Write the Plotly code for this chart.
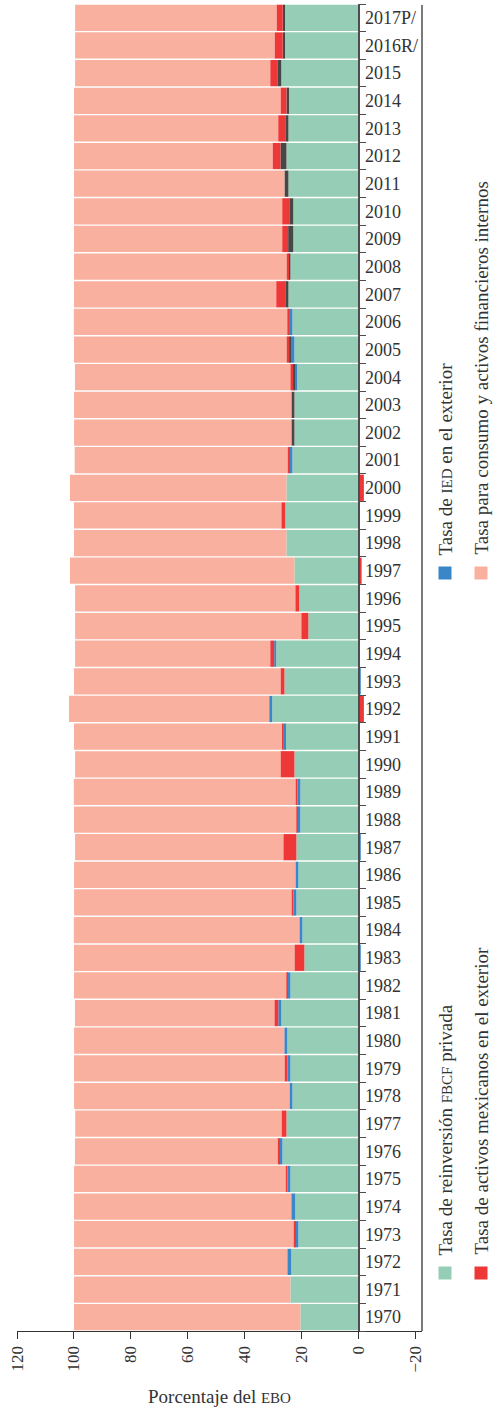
import plotly.graph_objects as go

years = [str(y) for y in range(1970, 2016)] + ["2016R/", "2017P/"]

# Tasa de reinversión FBCF privada
reinversion = [20.5, 24.0, 23.7, 21.2, 22.3, 24.0, 26.8, 25.4, 23.3, 24.0,
               25.1, 27.2, 24.0, 19.1, 19.8, 21.9, 21.2, 21.9, 20.5, 20.5,
               22.6, 25.8, 30.4, 26.1, 29.0, 17.7, 20.9, 22.6, 25.4, 25.8,
               25.4, 23.3, 22.6, 22.6, 21.6, 22.6, 23.3, 24.7, 24.0, 23.0,
               23.0, 24.7, 25.4, 24.7, 24.7, 27.2, 26.1, 26.1]
# Tasa de IED en el exterior
ied = [0, 0, 1.4, 1.05, 1.4, 1.05, 1.05, 0, 1.05, 1.05,
       1.05, 1.05, 1.05, -0.7, 1.05, 1.05, 1.05, -0.7, 1.05, 1.05,
       0, 0.5, 1.05, -0.7, 0.7, 0, 0, 0, 0, 0,
       0, 1.05, 0, 0, 1.05, 1.4, 1.4, 0, 0, 0,
       0, 0, 0, 0, 0, 0, 0, 0]
# segmento gris oscuro (sin leyenda)
otros = [0, 0, 0, 0, 0, 0, 0, 0, 0, 0,
         0, 0, 0, 0, 0, 0, 0, 0, 0, 0,
         0, 0, 0, 0, 0, 0, 0, 0, 0, 0,
         0, 0, 1.05, 1.05, 0.35, 0.35, 0, 1.1, 0.7, 1.8,
         1.4, 1.4, 2.1, 1.1, 0.7, 1.4, 0.6, 0.6]
# Tasa de activos mexicanos en el exterior
activos_ext = [0, -0.4, 0, 0.7, 0, 0.7, 0.7, 1.75, 0, 1.05,
               0, 1.4, 0.35, 3.5, 0, 0.7, -0.4, 4.6, 0.35, 0.7,
               4.9, 0.7, -1.8, 1.4, 1.4, 2.5, 1.4, -1.0, -0.4, 1.4,
               -1.8, 0.7, 0, 0, 1.05, 1.05, 0.35, 3.2, 0.7, 2.1,
               2.5, 0, 2.8, 2.5, 2.1, 2.5, 2.9, 2.2]
# Tasa para consumo y activos financieros internos
consumo = [79.5, 76.0, 74.9, 77.0, 76.3, 74.2, 71.1, 72.4, 75.6, 73.9,
           73.8, 70.0, 74.6, 77.4, 79.2, 76.3, 77.7, 73.1, 78.1, 77.8,
           72.1, 73.0, 70.3, 72.5, 68.5, 79.4, 77.3, 78.8, 74.6, 72.8,
           76.0, 74.7, 76.3, 76.3, 75.6, 74.6, 75.0, 71.0, 74.6, 73.1,
           73.1, 73.9, 69.7, 71.7, 72.5, 68.5, 70.0, 70.7]

x_ticks = [120, 100, 80, 60, 40, 20, 0, -20]

GREEN = "#96cdb6"
BLUE = "#3a87c8"
GRAY = "#474747"
RED = "#ee3838"
SALMON = "#f9b09e"
FONT = "Liberation Serif, DejaVu Serif, serif"
TXT = "#333333"

fig = go.Figure()
for vals, name, col in [(reinversion, "Tasa de reinversión FBCF privada", GREEN),
                        (ied, "Tasa de IED en el exterior", BLUE),
                        (otros, "Otros", GRAY),
                        (activos_ext, "Tasa de activos mexicanos en el exterior", RED),
                        (consumo, "Tasa para consumo y activos financieros internos", SALMON)]:
    fig.add_trace(go.Bar(y=years, x=vals, name=name, orientation="h",
                         marker=dict(color=col, line=dict(width=0))))

# plot area in pixels
L, R, T, B = 17, 73, 4, 82
W, H = 495 - L - R, 1413 - T - B
xmin, xmax = 120, -22.2
zero_pos = (0 - xmin) / (xmax - xmin)


def px(x):
    return (x - L) / W


def py(y):
    return (T + H - y) / H


fig.update_layout(
    width=495, height=1413,
    margin=dict(l=L, r=R, t=T, b=B, autoexpand=False),
    barmode="relative", bargap=0.05,
    plot_bgcolor="white", paper_bgcolor="white",
    showlegend=False,
    font=dict(family=FONT, size=18, color=TXT),
    xaxis=dict(range=[xmin, xmax], tickvals=x_ticks, tickangle=-90,
               automargin=False,
               showgrid=False, zeroline=False, showline=True,
               linecolor="#333333", linewidth=1.3,
               ticks="outside", ticklen=7, tickcolor="#333333",
               tickfont=dict(family=FONT, size=17, color=TXT),
               title=dict(text="Porcentaje del <span style='font-size:15px'>EBO</span>",
                          font=dict(family=FONT, size=19, color=TXT), standoff=18)),
    yaxis=dict(type="category", anchor="free", position=zero_pos, side="right",
               automargin=False, ticklabelstandoff=2,
               showgrid=False, zeroline=False, showline=True,
               linecolor="#4d4d4d", linewidth=1.5,
               ticks="outside", ticklen=6, tickcolor="#4d4d4d", tickson="boundaries",
               tickfont=dict(family=FONT, size=18, color=TXT)),
)

# right frame line
fig.add_shape(type="line", xref="paper", yref="paper", x0=1, x1=1, y0=0, y1=py(5),
              line=dict(color="#333333", width=1.3))

# rotated legend
legend = [
    (GREEN, 445, 1273, "Tasa de reinversión <span style='font-size:15px'>FBCF</span> privada"),
    (RED, 481, 1273, "Tasa de activos mexicanos en el exterior"),
    (BLUE, 445, 573, "Tasa de <span style='font-size:15px'>IED</span> en el exterior"),
    (SALMON, 481, 573, "Tasa para consumo y activos financieros internos"),
]
for col, cx, cy, text in legend:
    fig.add_shape(type="rect", xref="paper", yref="paper",
                  x0=px(cx - 6.5), x1=px(cx + 6.5), y0=py(cy + 6.5), y1=py(cy - 6.5),
                  fillcolor=col, line=dict(width=0))
    fig.add_annotation(xref="paper", yref="paper", x=px(cx), y=py(cy - 16),
                       text=text, textangle=-90, showarrow=False,
                       xanchor="center", yanchor="bottom",
                       font=dict(family=FONT, size=19, color=TXT))

fig.write_html("out.html", config={"displayModeBar": False},
               post_script="document.body.style.margin = '0';")
